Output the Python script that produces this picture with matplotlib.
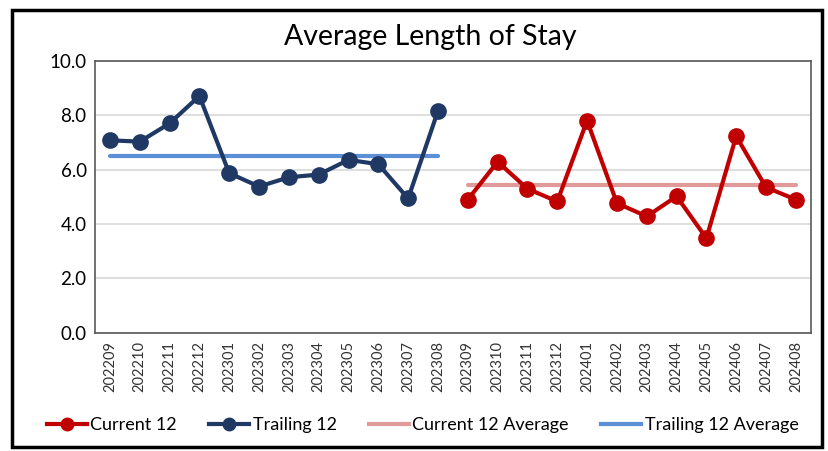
import matplotlib
matplotlib.use("Agg")
import matplotlib.pyplot as plt
from matplotlib.patches import Rectangle
from matplotlib.lines import Line2D

plt.rcParams['font.family'] = ['Lato', 'DejaVu Sans']

trailing_months = ["202209", "202210", "202211", "202212", "202301", "202302",
                   "202303", "202304", "202305", "202306", "202307", "202308"]
current_months = ["202309", "202310", "202311", "202312", "202401", "202402",
                  "202403", "202404", "202405", "202406", "202407", "202408"]
trailing_12 = [7.08, 7.03, 7.70, 8.71, 5.87, 5.38, 5.72, 5.82, 6.36, 6.20, 4.94, 8.16]
current_12 = [4.90, 6.29, 5.30, 4.83, 7.80, 4.77, 4.28, 5.02, 3.48, 7.23, 5.35, 4.90]
trailing_avg = 6.52
current_avg = 5.44

labels = trailing_months + current_months
xt = list(range(len(trailing_months)))
xc = list(range(len(trailing_months), len(labels)))

fig = plt.figure(figsize=(8.29, 4.51), dpi=100)
ax = fig.add_axes([0.1146, 0.262, 0.8634, 0.603])

c_cur = "#C00000"
c_trl = "#1F3864"
c_cur_avg = "#E09A9A"
c_trl_avg = "#5B8FD6"

ax.plot(xt, [trailing_avg] * len(xt), color=c_trl_avg, lw=3, zorder=2, solid_capstyle='round')
ax.plot(xc, [current_avg] * len(xc), color=c_cur_avg, lw=3, zorder=2, solid_capstyle='round')
ax.plot(xt, trailing_12, color=c_trl, lw=3, marker='o', ms=11, zorder=3)
ax.plot(xc, current_12, color=c_cur, lw=3, marker='o', ms=11, zorder=3)

ax.set_xlim(-0.5, len(labels) - 0.5)
ax.set_ylim(0, 10)
ax.set_yticks([0, 2, 4, 6, 8, 10])
ax.set_yticklabels([f"{v:.1f}" for v in [0, 2, 4, 6, 8, 10]], fontsize=13.5)
ax.set_xticks(range(len(labels)))
ax.set_xticklabels(labels, rotation=90, fontsize=10.5, color="#333333")
ax.tick_params(axis='both', length=0, pad=6)
ax.grid(axis='y', color="#D9D9D9", lw=1.2)
ax.set_axisbelow(True)
for s in ax.spines.values():
    s.set_color("#595959")
    s.set_linewidth(1.2)

fig.text(0.519, 0.918, "Average Length of Stay", ha='center', va='center', fontsize=20.5)

handles = [
    Line2D([], [], color=c_cur, lw=3, marker='o', ms=9),
    Line2D([], [], color=c_trl, lw=3, marker='o', ms=9),
    Line2D([], [], color=c_cur_avg, lw=3),
    Line2D([], [], color=c_trl_avg, lw=3),
]
fig.legend(handles, ["Current 12", "Trailing 12", "Current 12 Average", "Trailing 12 Average"],
           loc='center', bbox_to_anchor=(0.51, 0.058), ncol=4, frameon=False,
           fontsize=13, handlelength=2.2, handletextpad=0.2, columnspacing=1.8)

fig.patches.append(Rectangle((12 / 829, 4 / 451), 810 / 829, 437 / 451, transform=fig.transFigure,
                             fill=False, edgecolor='black', lw=2.5))

fig.savefig("out.png", dpi=100)
